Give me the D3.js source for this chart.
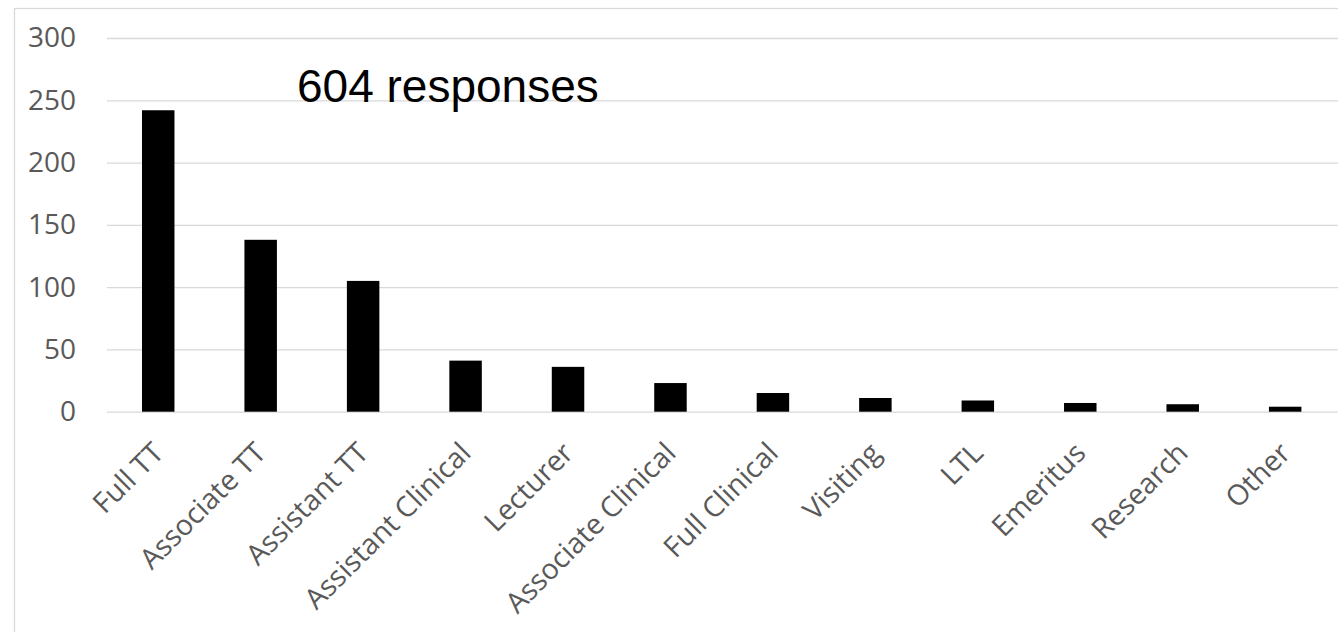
<!DOCTYPE html>
<html>
<head>
<meta charset="utf-8">
<script src="https://cdn.jsdelivr.net/npm/d3@7"></script>
<style>
  html, body { margin: 0; padding: 0; background: #fff; }
  svg { display: block; }
</style>
</head>
<body>
<svg id="chart" width="1338" height="632"></svg>
<script>
const categories = ["Full TT", "Associate TT", "Assistant TT", "Assistant Clinical", "Lecturer",
  "Associate Clinical", "Full Clinical", "Visiting", "LTL", "Emeritus", "Research", "Other"];
const values = [242, 138, 105, 41, 36, 23, 15, 11, 9, 7, 6, 4];
const yTicks = [0, 50, 100, 150, 200, 250, 300];
const annotation = "604 responses";

const W = 1338, H = 632;
const svg = d3.select("#chart");

// outer chart border
svg.append("rect")
  .attr("x", 14.5).attr("y", 8.5)
  .attr("width", W).attr("height", H)
  .attr("fill", "#fff").attr("stroke", "#d9d9d9").attr("stroke-width", 1.3);

const plot = { left: 107, right: 1336.4, top: 38, bottom: 411.7 };

const x = d3.scaleBand().domain(categories)
  .range([plot.left, plot.right])
  .paddingInner(0.683).paddingOuter(0.3415);

const y = d3.scaleLinear().domain([0, 300]).range([plot.bottom, plot.top]);

// gridlines
const yAxis = d3.axisLeft(y).tickValues(yTicks).tickSize(-(W - plot.left)).tickPadding(31);
const gy = svg.append("g").attr("transform", `translate(${plot.left},0)`).call(yAxis);
gy.select(".domain").remove();
gy.selectAll(".tick line").attr("stroke", "#d9d9d9").attr("stroke-width", 1.3);
gy.selectAll(".tick text")
  .attr("fill", "#595959")
  .style("font-family", "'Open Sans', sans-serif")
  .style("font-size", "28px");

// bars
svg.append("g").selectAll("rect").data(categories).join("rect")
  .attr("x", d => x(d))
  .attr("width", x.bandwidth())
  .attr("y", (d, i) => y(values[i]))
  .attr("height", (d, i) => y(0) - y(values[i]))
  .attr("fill", "#000");

// x labels
const xAxis = d3.axisBottom(x).tickSize(0).tickPadding(0);
const gx = svg.append("g").attr("transform", `translate(0,${plot.bottom})`).call(xAxis);
gx.select(".domain").remove();
gx.selectAll(".tick text")
  .attr("fill", "#595959")
  .attr("text-anchor", "end")
  .attr("dy", null)
  .attr("y", null)
  .attr("transform", "translate(7,43) rotate(-45)")
  .style("font-family", "'Open Sans', sans-serif")
  .style("font-size", "28.5px");

// annotation
svg.append("text")
  .attr("x", 297).attr("y", 102)
  .attr("fill", "#000")
  .style("font-family", "'Liberation Sans', Arial, sans-serif")
  .style("font-size", "46px")
  .text(annotation);
</script>
</body>
</html>
